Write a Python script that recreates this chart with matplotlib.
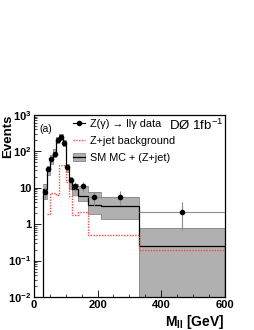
import numpy as np
import matplotlib
matplotlib.use('Agg')
import matplotlib.pyplot as plt
from matplotlib.lines import Line2D
from matplotlib.patches import Patch
from matplotlib.ticker import FixedLocator, MultipleLocator, LogLocator, NullFormatter

plt.rcParams['font.family'] = ['Liberation Sans', 'DejaVu Sans']
plt.rcParams['mathtext.fontset'] = 'custom'
plt.rcParams['mathtext.rm'] = 'Liberation Sans'
plt.rcParams['mathtext.bf'] = 'Liberation Sans:bold'
plt.rcParams['mathtext.it'] = 'Liberation Sans:italic'

# bin edges in GeV
edges = [30, 40, 50, 60, 70, 80, 90, 100, 110, 120, 140, 170, 210, 330, 600]

# data points
data = [7.5, 32, 60, 85, 210, 250, 170, 38, 16, 11, 11, 5.4, 5.5, 2.2]
data_lo = [2.6, 5.5, 7.5, 9, 14, 16, 13, 6, 4, 3.2, 3.2, 2.2, 2.2, 1.5]
data_hi = [2.8, 5.8, 7.8, 9.5, 14.5, 16, 13, 6.3, 4.2, 3.4, 3.4, 2.4, 2.4, 1.9]

# SM MC + (Z+jet) and its uncertainty band
mc = [9, 30, 60, 90, 200, 250, 170, 35, 14, 9, 6, 3.3, 3.1, 0.245]
mc_lo = [5, 22, 45, 70, 165, 205, 140, 27, 9, 6.5, 4.3, 1.9, 1.4, 0.001]
mc_hi = [13, 40, 78, 112, 240, 295, 205, 46, 20, 13, 11, 7.5, 5.5, 0.76]

# Z+jet background
zj_edges = [40, 50, 60, 70, 80, 90, 100, 110, 120, 140, 170, 210, 330, 600]
zj = [1.9, 7, 7, 6.5, 43, 43, 14, 6, 1.8, 2.1, 0.5, 0.5, 0.19]

fig = plt.figure(figsize=(2.55, 3.3), dpi=100)
ax = fig.add_axes([0.133, 0.1, 0.749, 0.552])

e = np.array(edges, dtype=float)
cen = 0.5 * (e[1:] + e[:-1])
half = 0.5 * (e[1:] - e[:-1])

ax.stairs(mc_hi, e, baseline=mc_lo, fill=True, facecolor='#b0b0b0',
          edgecolor='none', zorder=1)
ax.stairs(mc_hi, e, baseline=None, color='#858585', lw=0.6, zorder=1.5)
ax.stairs(mc_lo, e, baseline=None, color='#858585', lw=0.6, zorder=1.5)
ax.stairs(mc, e, baseline=1e-3, color='black', lw=0.9, zorder=2)
ax.stairs(zj, zj_edges, baseline=None, color='#ff4848', lw=1.0,
          linestyle=(0, (1, 1)), zorder=3)
ax.errorbar(cen, data, yerr=[data_lo, data_hi], xerr=half, fmt='o',
            color='black', ms=3, ecolor='#8c8c8c', elinewidth=0.8,
            capsize=0, zorder=4)

ax.set_xlim(0, 600)
ax.set_yscale('log')
ax.set_ylim(1e-2, 1e3)

ax.xaxis.set_major_locator(FixedLocator([0, 200, 400, 600]))
ax.xaxis.set_minor_locator(MultipleLocator(50))
ax.yaxis.set_major_locator(FixedLocator([1e-2, 1e-1, 1, 10, 1e2, 1e3]))
ax.yaxis.set_minor_locator(LogLocator(base=10, subs=np.arange(2, 10)))
ax.yaxis.set_minor_formatter(NullFormatter())
ax.set_xticklabels(['0', '200', '400', '600'], fontweight='bold', fontsize=8)
ax.set_yticklabels([r'$\mathbf{10^{-2}}$', r'$\mathbf{10^{-1}}$', '1', '10',
                    r'$\mathbf{10^{2}}$', r'$\mathbf{10^{3}}$'],
                   fontweight='bold', fontsize=8)
ax.tick_params(which='both', direction='in', top=False, right=False)
ax.tick_params(which='major', length=5, width=0.6, pad=2)
ax.tick_params(which='minor', length=2.5, width=0.5)
for s in ax.spines.values():
    s.set_linewidth(0.9)

ax.set_ylabel('Events', fontsize=9.5, fontweight='bold', loc='top')
ax.yaxis.set_label_coords(-0.105, 1.0)
ax.set_xlabel(r'$\mathbf{M_{ll}}$ [GeV]', fontsize=10, fontweight='bold',
              loc='right', labelpad=2)

ax.text(0.03, 0.92, '(a)', transform=ax.transAxes, fontsize=7.5,
        ha='left', va='center')
ax.text(0.99, 0.94, r'DØ 1fb$^{-1}$', transform=ax.transAxes, fontsize=9.5,
        ha='right', va='center')

h_data = Line2D([], [], color='black', marker='o', ms=3, lw=0.8)
h_zj = Line2D([], [], color='#ff4848', lw=1.0, linestyle=(0, (1, 1)))
h_mc = (Patch(facecolor='#b0b0b0', edgecolor='#858585', lw=0.6),
        Line2D([], [], color='black', lw=0.9))
ax.legend([h_data, h_zj, h_mc],
          ['Z(γ) → llγ data', 'Z+jet background', 'SM MC + (Z+jet)'],
          loc='upper left', bbox_to_anchor=(0.195, 0.99), frameon=False,
          fontsize=7.8, handlelength=1.1, handletextpad=0.4,
          labelspacing=0.65, borderaxespad=0, borderpad=0.2)

plt.savefig('out.png', dpi=100)
